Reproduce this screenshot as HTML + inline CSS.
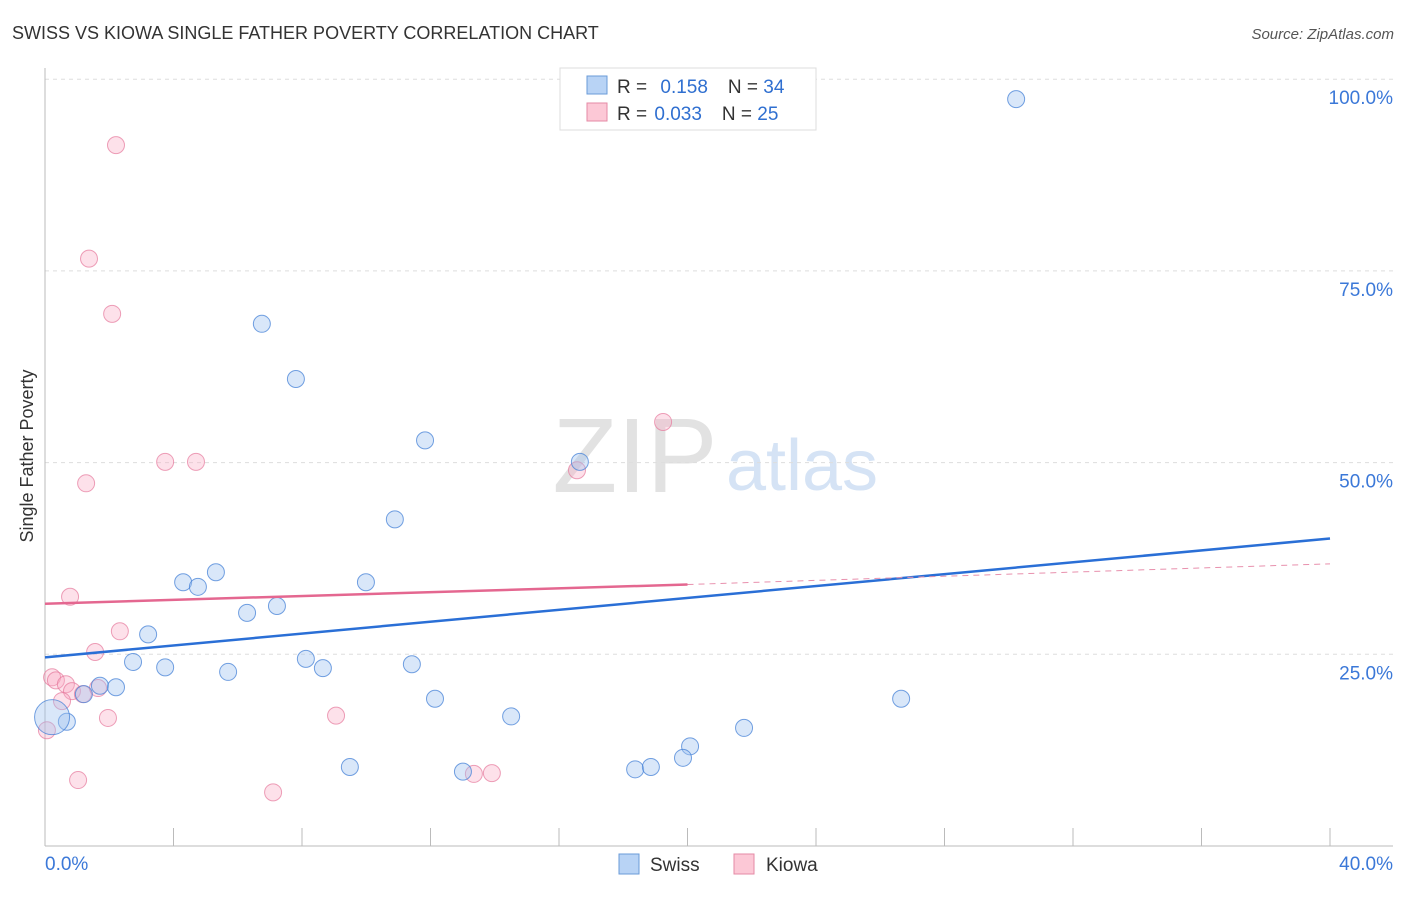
<!DOCTYPE html>
<html><head><meta charset="utf-8"><style>
body{margin:0;background:#fff;font-family:"Liberation Sans",sans-serif}
svg text{font-family:"Liberation Sans",sans-serif}
</style></head><body>
<svg width="1406" height="892" viewBox="0 0 1406 892">
<text x="12" y="39" font-size="18" fill="#333">SWISS VS KIOWA SINGLE FATHER POVERTY CORRELATION CHART</text>
<text x="1394" y="39" font-size="15" fill="#555" text-anchor="end" font-style="italic">Source: ZipAtlas.com</text>
<text x="635" y="492" font-size="106" fill="#e2e2e2" text-anchor="middle" font-family="Liberation Serif">ZIP</text>
<text x="802" y="490" font-size="72" fill="#d5e3f5" text-anchor="middle">atlas</text>
<g id="grid"></g>
<g id="axes"></g>
<g id="marks"></g>
<text x="33" y="456" font-size="18" fill="#333" text-anchor="middle" transform="rotate(-90 33 456)">Single Father Poverty</text>
<g>
<rect x="560" y="68" width="256" height="62" fill="#fff" stroke="#ddd"/>
<rect x="587" y="76" width="20" height="18" fill="#b8d3f5" stroke="#6a9bd8"/>
<rect x="587" y="103" width="20" height="18" fill="#fcc8d6" stroke="#e58aa5"/>
<text x="617" y="93" font-size="19" fill="#333">R = <tspan fill="#2f6fd0" dx="8">0.158</tspan><tspan dx="20" fill="#333">N = </tspan><tspan fill="#2f6fd0">34</tspan></text>
<text x="617" y="120" font-size="19" fill="#333">R = <tspan fill="#2f6fd0" dx="2">0.033</tspan><tspan dx="20" fill="#333">N = </tspan><tspan fill="#2f6fd0">25</tspan></text>
</g>
<g>
<rect x="619" y="854" width="20" height="20" fill="#b8d3f5" stroke="#6a9bd8"/>
<text x="650" y="871" font-size="19" fill="#333">Swiss</text>
<rect x="734" y="854" width="20" height="20" fill="#fcc8d6" stroke="#e58aa5"/>
<text x="766" y="871" font-size="19" fill="#333">Kiowa</text>
</g>
</svg>
<script>
const yTicks=[25,50,75,100];
const yTickLabels=["25.0%","50.0%","75.0%","100.0%"];
const xTicks=[0,4,8,12,16,20,24,28,32,36,40];
const swissX=[30.23,6.75,7.81,11.83,16.65,10.89,5.32,4.30,4.76,9.99,7.22,6.29,3.21,2.74,3.74,8.12,8.65,11.42,5.70,1.71,2.21,1.21,12.14,26.65,14.51,0.68,0.22,21.76,20.08,19.86,9.49,13.01,18.37,18.86];
const swissY=[97.4,68.1,60.9,52.9,50.1,42.6,35.7,34.4,33.8,34.4,31.3,30.4,27.6,24.0,23.3,24.4,23.2,23.7,22.7,20.9,20.7,19.8,19.2,19.2,16.9,16.2,16.8,15.4,13.0,11.5,10.3,9.7,10.0,10.3];
const swissR=[8,8,8,8,8,8,8,8,8,8,8,8,8,8,8,8,8,8,8,8,8,8,8,8,8,8,17,8,8,8,8,8,8,8];
const kiowaX=[2.21,1.37,2.09,19.24,3.74,4.70,16.56,1.28,0.78,2.33,1.56,0.22,0.34,0.65,0.84,1.18,1.65,0.53,1.96,9.06,0.06,1.03,7.10,13.35,13.91];
const kiowaY=[91.4,76.6,69.4,55.3,50.1,50.1,49.0,47.3,32.5,28.0,25.3,22.0,21.6,21.1,20.2,19.8,20.6,18.9,16.7,17.0,15.1,8.6,7.0,9.4,9.5];
const swissTrend=[24.6,40.1];
const kiowaTrend=[31.6,34.1,36.8];
const NS='http://www.w3.org/2000/svg';
const X=v=>45+v*32.125, Y=v=>846-v*7.668;
function mk(p,t,a){const e=document.createElementNS(NS,t);for(const k in a)e.setAttribute(k,a[k]);document.getElementById(p).appendChild(e);return e;}
yTicks.forEach((t,i)=>{
 const g=mk('grid','line',{x1:45,x2:1393,y1:Y(t),y2:Y(t),stroke:'#ddd','stroke-dasharray':'4,4'});
 
 
 const l=mk('grid','text',{x:1393,y:Y(t)+25,'font-size':19,fill:'#3b78d8','text-anchor':'end'});
 l.textContent=yTickLabels[i];
 
 
});
const ax=mk('axes','line',{x1:45,x2:1393,y1:846,y2:846,stroke:'#bbb'});


const ay=mk('axes','line',{x1:45,x2:45,y1:68,y2:846,stroke:'#bbb'});


xTicks.forEach(t=>{
 const k=mk('axes','line',{x1:X(t),x2:X(t),y1:828,y2:846,stroke:'#bbb'});
 
 
});
[[0,'0.0%','start',45],[40,'40.0%','end',1393]].forEach(a=>{
 const l=mk('axes','text',{x:a[3],y:870,'font-size':19,fill:'#3b78d8','text-anchor':a[2]});
 l.textContent=a[1];
 
 
});
kiowaX.forEach((x,i)=>{
 const c=mk('marks','circle',{cx:X(x),cy:Y(kiowaY[i]),r:8.5,fill:'rgba(248,170,195,0.35)',stroke:'rgba(230,120,155,0.7)','stroke-width':1});
 
 
});
swissX.forEach((x,i)=>{
 const c=mk('marks','circle',{cx:X(x),cy:Y(swissY[i]),r:swissR[i]+0.5,fill:'rgba(160,195,240,0.4)',stroke:'rgba(70,130,215,0.75)','stroke-width':1});
 
 
});
const st=mk('marks','line',{x1:X(0),y1:Y(swissTrend[0]),x2:X(40),y2:Y(swissTrend[1]),stroke:'#2a6fd6','stroke-width':2.5});


const kt=mk('marks','line',{x1:X(0),y1:Y(kiowaTrend[0]),x2:X(20),y2:Y(kiowaTrend[1]),stroke:'#e46790','stroke-width':2.5});


const kd=mk('marks','line',{x1:X(20),y1:Y(kiowaTrend[1]),x2:X(40),y2:Y(kiowaTrend[2]),stroke:'#e890ad','stroke-width':1,'stroke-dasharray':'6,5'});


</script>
</body></html>
